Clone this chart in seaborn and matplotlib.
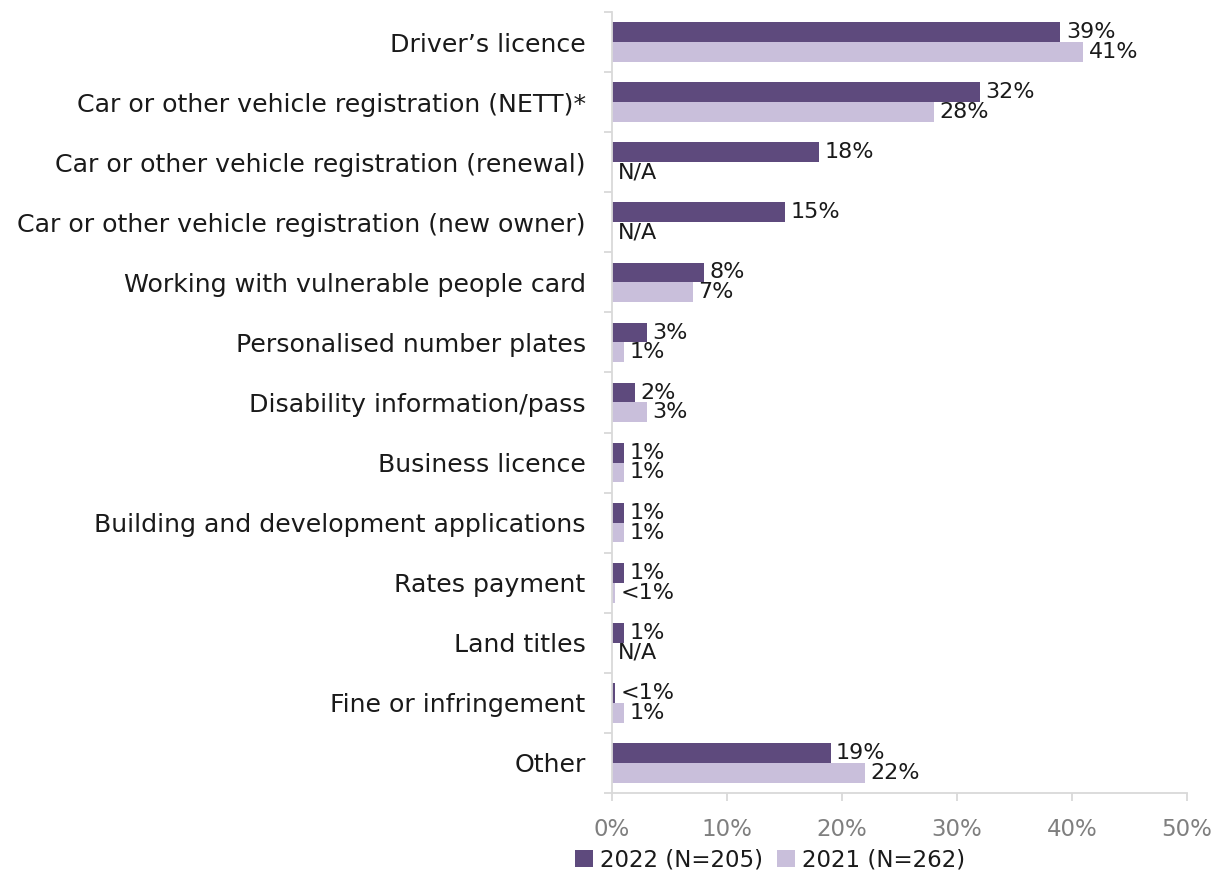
import numpy as np
import pandas as pd
import matplotlib
matplotlib.use("Agg")
import matplotlib.pyplot as plt
from matplotlib.patches import Patch
from matplotlib.ticker import FixedLocator, PercentFormatter
import seaborn as sns

categories = [
    "Driver\u2019s licence",
    "Car or other vehicle registration (NETT)*",
    "Car or other vehicle registration (renewal)",
    "Car or other vehicle registration (new owner)",
    "Working with vulnerable people card",
    "Personalised number plates",
    "Disability information/pass",
    "Business licence",
    "Building and development applications",
    "Rates payment",
    "Land titles",
    "Fine or infringement",
    "Other",
]
values_2022 = [39, 32, 18, 15, 8, 3, 2, 1, 1, 1, 1, 0.3, 19]
values_2021 = [41, 28, np.nan, np.nan, 7, 1, 3, 1, 1, 0.3, np.nan, 1, 22]
labels_2022 = ["39%", "32%", "18%", "15%", "8%", "3%", "2%", "1%", "1%", "1%", "1%", "<1%", "19%"]
labels_2021 = ["41%", "28%", "N/A", "N/A", "7%", "1%", "3%", "1%", "1%", "<1%", "N/A", "1%", "22%"]
series = ["2022 (N=205)", "2021 (N=262)"]
colors = ["#5E4A7D", "#C9BFDB"]

df = pd.DataFrame({
    "category": categories * 2,
    "value": values_2022 + values_2021,
    "series": [series[0]] * len(categories) + [series[1]] * len(categories),
})
# missing items become zero-length bars so every category keeps its slot
df["plot_value"] = df["value"].fillna(0)

sns.set_style("white")
plt.rcParams["font.family"] = ["DejaVu Sans"]

fig = plt.figure(figsize=(12.18, 8.77), dpi=100)
ax = fig.add_axes([0.5025, 0.0958, 0.4720, 0.8905])

sns.barplot(data=df, y="category", x="plot_value", hue="series", order=categories,
            hue_order=series, palette=colors, width=0.66, orient="h",
            saturation=1, linewidth=0, ax=ax, legend=False)

# value labels next to each bar
for bars, labels in zip(ax.containers, [labels_2022, labels_2021]):
    for bar, lab in zip(bars, labels):
        ax.annotate(lab, (bar.get_width(), bar.get_y() + bar.get_height() / 2),
                    xytext=(4, 0), textcoords="offset points",
                    ha="left", va="center", fontsize=16, color="#1a1a1a")

ax.set_xlim(0, 50)
ax.set_ylim(len(categories) - 0.5, -0.5)
ax.xaxis.set_major_locator(FixedLocator([0, 10, 20, 30, 40, 50]))
ax.xaxis.set_major_formatter(PercentFormatter(decimals=0))
ax.set_xlabel("")
ax.set_ylabel("")

for side in ["top", "right"]:
    ax.spines[side].set_visible(False)
for side in ["left", "bottom"]:
    ax.spines[side].set_color("#D9D9D9")
    ax.spines[side].set_linewidth(1.3)

ax.tick_params(axis="y", which="major", left=True, length=0, pad=19,
               labelsize=18.2, labelcolor="#1a1a1a")
ax.yaxis.set_minor_locator(FixedLocator(np.arange(-0.5, len(categories), 1.0)))
ax.tick_params(axis="y", which="minor", left=True, length=6, width=1.3,
               color="#D9D9D9", direction="out")
ax.tick_params(axis="x", which="major", bottom=True, length=6, width=1.3, color="#D9D9D9",
               pad=12, labelsize=16.5, labelcolor="#7F7F7F")

handles = [Patch(facecolor=c, edgecolor="none") for c in colors]
fig.legend(handles, series, loc="center", bbox_to_anchor=(770 / 1218, 1 - 860 / 877),
           ncol=2, frameon=False, fontsize=16.5, handlelength=0.8, handleheight=0.8,
           handletextpad=0.3, columnspacing=0.6, labelcolor="#1a1a1a")

fig.savefig("out.png", dpi=100)
